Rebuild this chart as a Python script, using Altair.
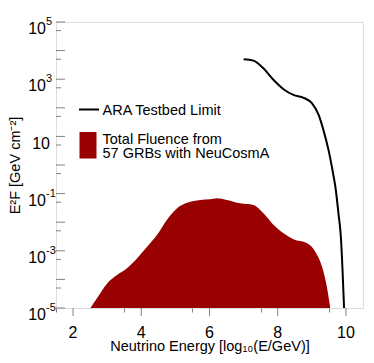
import altair as alt
import pandas as pd
import numpy as np

# ARA Testbed limit (x = log10(E/GeV), y = log10(E^2 F / GeV cm^-2))
ara_x = [7.00, 7.29, 7.58, 7.88, 8.17, 8.46, 8.76, 9.00, 9.20, 9.34, 9.49, 9.64, 9.69, 9.78, 9.85, 9.90, 9.945]
ara_y = [3.70, 3.65, 3.38, 2.97, 2.65, 2.45, 2.35, 2.16, 1.75, 1.22, 0.52, -0.41, -0.76, -1.69, -2.50, -3.67, -5.0]

# Total fluence from 57 GRBs with NeuCosmA
flu_x = [2.51, 2.70, 3.00, 3.29, 3.58, 3.88, 4.17, 4.46, 4.75, 5.05, 5.34, 5.73, 6.02,
         6.22, 6.51, 6.90, 7.29, 7.58, 7.88, 8.17, 8.46, 8.86, 9.10, 9.30, 9.44, 9.54]
flu_y = [-5.0, -4.66, -4.14, -3.85, -3.61, -3.26, -2.86, -2.45, -1.92, -1.51, -1.32, -1.22, -1.20,
         -1.16, -1.22, -1.34, -1.40, -1.69, -2.10, -2.39, -2.60, -2.74, -3.03, -3.56, -4.26, -5.0]

x_ticks = [1.5 + 0.5 * i for i in range(19)]
x_major = [2, 4, 6, 8, 10]
x_labels = ["2", "4", "6", "8", "10"]
y_major = list(range(-5, 6))
y_minor = [n + float(np.log10(5)) for n in range(-5, 5)]
y_label_exps = [-5, -3, -1, 1, 3, 5]

legend_line = "ARA Testbed Limit"
legend_fill = ["Total Fluence from", "57 GRBs with NeuCosmA"]

FONT = "Liberation Sans"
RED = "#990000"
GRAY = "#808080"
W, H = 307, 286

xscale = alt.Scale(domain=[1.5, 10.5], nice=False, zero=False)
yscale = alt.Scale(domain=[-5, 5], nice=False, zero=False)

ara = pd.DataFrame({"x": ara_x, "y": ara_y})
flu = pd.DataFrame({"x": flu_x, "y": flu_y})

xaxis = alt.Axis(
    values=x_ticks, tickSize=4, tickColor=GRAY, domain=False, grid=False, labels=False,
    title="Neutrino Energy [log₁₀(E/GeV)]", titleFont=FONT, titleFontSize=14.5,
    titleFontWeight="normal", titleColor="black", titleBaseline="alphabetic",
    titleY=42, titleAnchor="middle",
)
yaxis = alt.Axis(
    labels=False, ticks=False, domain=False, grid=False,
    title="E²F [GeV cm⁻²]", titleFont=FONT, titleFontSize=14.5,
    titleFontWeight="normal", titleColor="black", titleBaseline="alphabetic",
    titleX=-37, titleY=H / 2, titleAngle=270, titleAlign="center",
)

area = alt.Chart(flu).mark_area(color=RED, interpolate="monotone", clip=True).encode(
    x=alt.X("x:Q", scale=xscale, axis=xaxis),
    y=alt.Y("y:Q", scale=yscale, axis=yaxis),
    y2=alt.datum(-5),
)

line = alt.Chart(ara).mark_line(color="black", strokeWidth=2, interpolate="monotone", clip=True).encode(
    x=alt.X("x:Q", scale=xscale),
    y=alt.Y("y:Q", scale=yscale),
)

xmaj_df = pd.DataFrame({"x": x_major, "t": x_labels})
xmaj = alt.Chart(xmaj_df).mark_rule(color=GRAY, strokeWidth=1).encode(
    x=alt.X("x:Q", scale=xscale),
    y=alt.value(H), y2=alt.value(H + 8),
)
xlab = alt.Chart(xmaj_df).mark_text(
    font=FONT, fontSize=16, align="center", baseline="alphabetic", color="black"
).encode(
    x=alt.X("x:Q", scale=xscale),
    y=alt.value(H + 30), text="t:N",
)

ymaj = alt.Chart(pd.DataFrame({"y": y_major})).mark_rule(color=GRAY, strokeWidth=1).encode(
    y=alt.Y("y:Q", scale=yscale),
    x=alt.value(0), x2=alt.value(9),
)
ymin = alt.Chart(pd.DataFrame({"y": y_minor})).mark_rule(color=GRAY, strokeWidth=1).encode(
    y=alt.Y("y:Q", scale=yscale),
    x=alt.value(0), x2=alt.value(5),
)

lab = pd.DataFrame({"e": y_label_exps})
lab_base = alt.Chart(lab).transform_filter("datum.e != 1").mark_text(
    font=FONT, fontSize=16, align="right", baseline="alphabetic", dy=12, color="black"
).encode(y=alt.Y("e:Q", scale=yscale), x=alt.value(-10), text=alt.value("10"))
lab_exp = alt.Chart(lab).transform_filter("datum.e != 1").transform_calculate(
    s="toString(datum.e)"
).mark_text(
    font=FONT, fontSize=11, align="left", baseline="alphabetic", dy=3, color="black"
).encode(y=alt.Y("e:Q", scale=yscale), x=alt.value(-10), text="s:N")
lab_plain = alt.Chart(lab).transform_filter("datum.e == 1").mark_text(
    font=FONT, fontSize=16, align="right", baseline="alphabetic", dy=13, color="black"
).encode(y=alt.Y("e:Q", scale=yscale), x=alt.value(-6), text=alt.value("10"))

one = alt.Data(values=[{}])
leg_rule = alt.Chart(one).mark_rule(color="black", strokeWidth=2).encode(
    x=alt.value(23), x2=alt.value(43), y=alt.value(87.5)
)
leg_rect = alt.Chart(one).mark_rect(color=RED).encode(
    x=alt.value(23.5), x2=alt.value(40.5), y=alt.value(110), y2=alt.value(136.5)
)
leg_t1 = alt.Chart(one).mark_text(
    font=FONT, fontSize=14.5, align="left", baseline="alphabetic", color="black"
).encode(x=alt.value(46.5), y=alt.value(93), text=alt.value(legend_line))
leg_t2 = alt.Chart(one).mark_text(
    font=FONT, fontSize=14.5, align="left", baseline="alphabetic", color="black", lineHeight=14
).encode(x=alt.value(46.5), y=alt.value(122.3), text=alt.value(legend_fill))

chart = alt.layer(
    area, line, xmaj, xlab, ymaj, ymin, lab_base, lab_exp, lab_plain,
    leg_rule, leg_rect, leg_t1, leg_t2,
).properties(
    width=W, height=H,
    autosize=alt.AutoSizeParams(type="none"),
    padding={"left": 48, "top": 14, "right": 3, "bottom": 47},
).configure_view(
    stroke=GRAY, strokeWidth=1
).configure(background="white")

chart.save("out.html", embed_options={"renderer": "svg", "actions": False})
